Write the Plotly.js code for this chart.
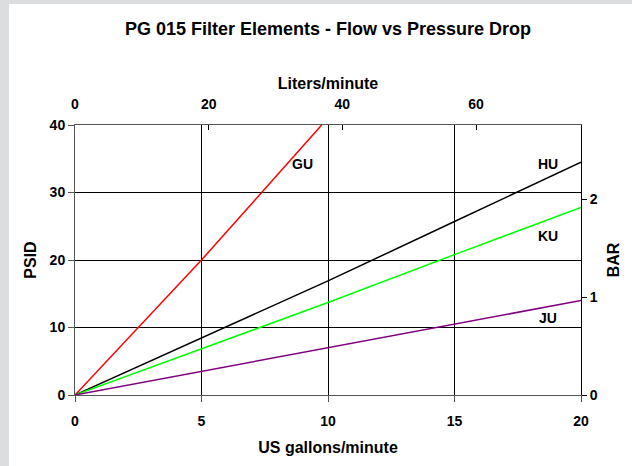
<!DOCTYPE html>
<html>
<head>
<meta charset="utf-8">
<script src="https://cdn.plot.ly/plotly-3.0.1.min.js"></script>
<style>
html,body{margin:0;padding:0;background:#dcdddf;width:632px;height:466px;overflow:hidden;}
#chart{position:absolute;left:9px;top:4px;width:623px;height:462px;background:#fff;}
</style>
</head>
<body>
<div id="chart"></div>
<script>
// Flow (US gallons/minute) vs pressure drop (PSID)
const gpm = [0, 5, 10, 15, 20];
const gpmGU = [0, 5, 9.75];
const psidGU = [0, 20, 40];
const psidHU = [0, 8.4, 16.9, 25.7, 34.5];
const psidKU = [0, 6.8, 13.7, 20.8, 27.8];
const psidJU = [0, 3.5, 7.0, 10.6, 14.0];
const seriesNames = ["GU", "HU", "KU", "JU"];
const labelX = [9.0, 18.7, 18.7, 18.7];
const labelY = [34.2, 34.2, 23.6, 11.4];
const litersTicks = [0, 20, 40, 60];
const barTicks = [0, 1, 2];
const LPM_PER_GPM = 3.78541;
const PSI_PER_BAR = 14.5038;
const xMax = 20, yMax = 40;

const FONT = "Arial, 'Liberation Sans', sans-serif";
const bold = (s) => ({family: FONT, size: s, color: "#000", weight: "bold"});

const traces = [
  {x: gpmGU, y: psidGU, mode: "lines", line: {color: "#ff0000", width: 1.5}, name: "GU", xaxis: "x", yaxis: "y"},
  {x: gpm, y: psidHU, mode: "lines", line: {color: "#000000", width: 1.5}, name: "HU", xaxis: "x", yaxis: "y"},
  {x: gpm, y: psidKU, mode: "lines", line: {color: "#00ff00", width: 1.5}, name: "KU", xaxis: "x", yaxis: "y"},
  {x: gpm, y: psidJU, mode: "lines", line: {color: "#800080", width: 1.5}, name: "JU", xaxis: "x", yaxis: "y"},
  // invisible traces to activate secondary axes
  {x: [0], y: [0], mode: "markers", marker: {opacity: 0}, xaxis: "x2", yaxis: "y", hoverinfo: "skip"},
  {x: [0], y: [0], mode: "markers", marker: {opacity: 0}, xaxis: "x", yaxis: "y2", hoverinfo: "skip"}
];

const annotations = seriesNames.map((n, i) => ({
  x: labelX[i], y: labelY[i], xref: "x", yref: "y", text: n, showarrow: false,
  font: bold(14), xanchor: "center", yanchor: "middle"
}));

const layout = {
  width: 623, height: 462,
  margin: {l: 66, r: 51, t: 121, b: 71},
  paper_bgcolor: "#ffffff", plot_bgcolor: "#ffffff",
  showlegend: false,
  title: {text: "PG 015 Filter Elements - Flow vs Pressure Drop", font: bold(18),
          x: 0.5, xref: "paper", y: 1 - 25/462, yref: "container", yanchor: "middle"},
  xaxis: {range: [0, xMax], dtick: 5, tick0: 0, showgrid: true, gridcolor: "#000", gridwidth: 1,
          zeroline: false, showline: true, linecolor: "#555", linewidth: 1,
          ticks: "outside", ticklen: 6, tickcolor: "#555", ticklabelstandoff: 7,
          tickfont: bold(14), title: {text: "US gallons/minute", font: bold(16), standoff: 14}},
  xaxis2: {range: [0, xMax * LPM_PER_GPM], overlaying: "x", side: "top", tickvals: litersTicks,
           showgrid: false, zeroline: false, showline: true, linecolor: "#555", linewidth: 1,
           ticks: "inside", ticklen: 5, tickcolor: "#000", ticklabelstandoff: 9,
           tickfont: bold(14), title: {text: "Liters/minute", font: bold(16), standoff: 2}},
  yaxis: {range: [0, yMax], dtick: 10, tick0: 0, showgrid: true, gridcolor: "#000", gridwidth: 1,
          zeroline: false, showline: true, linecolor: "#555", linewidth: 1,
          ticks: "outside", ticklen: 6, tickcolor: "#555",
          tickfont: bold(14), title: {text: "PSID", font: bold(16), standoff: 9}},
  yaxis2: {range: [0, yMax / PSI_PER_BAR], overlaying: "y", side: "right", tickvals: barTicks,
           showgrid: false, zeroline: false, showline: true, linecolor: "#000", linewidth: 1,
           ticks: "outside", ticklen: 5, tickcolor: "#000",
           tickfont: bold(14), title: {text: "BAR", font: bold(16), standoff: 11}},
  annotations: annotations
};

Plotly.newPlot("chart", traces, layout, {staticPlot: true, displayModeBar: false});
</script>
</body>
</html>
